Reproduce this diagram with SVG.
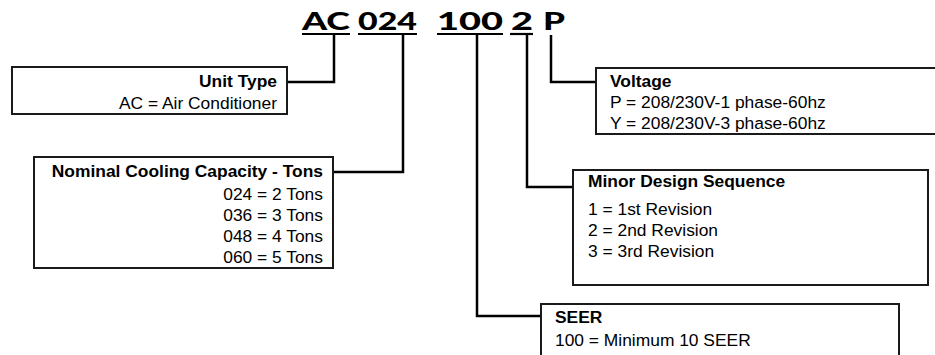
<svg xmlns="http://www.w3.org/2000/svg" width="935" height="355" viewBox="0 0 935 355">
<style>
.box{fill:#fff;stroke:#1a1a1a;stroke-width:2}
.conn{fill:none;stroke:#000;stroke-width:2.5}
.ul{stroke:#000;stroke-width:2.2}
.t{font-family:"Liberation Sans",Arial,sans-serif;font-size:17.4px;fill:#000}
.b{font-weight:bold}
.r{text-anchor:end}
.code{font-family:Lato,"DejaVu Sans",sans-serif;font-weight:900;font-size:25px;fill:#000}
</style>
<rect width="935" height="355" fill="#fff"/>
<g id="code">
<text class="code" x="302" y="30" textLength="48" lengthAdjust="spacingAndGlyphs">AC</text>
<text class="code" x="358" y="30" textLength="59" lengthAdjust="spacingAndGlyphs">024</text>
<text class="code" x="437" y="30" textLength="66" lengthAdjust="spacingAndGlyphs">100</text>
<text class="code" x="511" y="30" textLength="22" lengthAdjust="spacingAndGlyphs">2</text>
<text class="code" x="543" y="30" textLength="22" lengthAdjust="spacingAndGlyphs">P</text>
<line class="ul" x1="302" y1="34" x2="350" y2="34"/>
<line class="ul" x1="358" y1="34" x2="417" y2="34"/>
<line class="ul" x1="437" y1="34" x2="503" y2="34"/>
<line class="ul" x1="510" y1="34" x2="533" y2="34"/>
</g>
<g id="connectors">
<polyline class="conn" points="334,35 334,82 287,82"/>
<polyline class="conn" points="403,35 403,172 333,172"/>
<polyline class="conn" points="477,35 477,316 541,316"/>
<polyline class="conn" points="527,35 527,187 573,187"/>
<polyline class="conn" points="551,35 551,82 596,82"/>
</g>
<g id="unit-type">
<rect class="box" x="12" y="67" width="275" height="47"/>
<text class="t b r" x="277" y="87">Unit Type</text>
<text class="t r" x="277" y="109">AC = Air Conditioner</text>
</g>
<g id="capacity">
<rect class="box" x="34" y="157" width="299" height="111"/>
<text class="t b r" x="323" y="177">Nominal Cooling Capacity - Tons</text>
<text class="t r" x="323" y="200">024 = 2 Tons</text>
<text class="t r" x="323" y="221">036 = 3 Tons</text>
<text class="t r" x="323" y="242">048 = 4 Tons</text>
<text class="t r" x="323" y="263">060 = 5 Tons</text>
</g>
<g id="voltage">
<rect class="box" x="596" y="68" width="345" height="66"/>
<text class="t b" x="610" y="87">Voltage</text>
<text class="t" x="610" y="108">P = 208/230V-1 phase-60hz</text>
<text class="t" x="610" y="129">Y = 208/230V-3 phase-60hz</text>
</g>
<g id="minor-design">
<rect class="box" x="573" y="170" width="355" height="115"/>
<text class="t b" x="588" y="187">Minor Design Sequence</text>
<text class="t" x="588" y="215">1 = 1st Revision</text>
<text class="t" x="588" y="236">2 = 2nd Revision</text>
<text class="t" x="588" y="257">3 = 3rd Revision</text>
</g>
<g id="seer">
<rect class="box" x="541" y="304" width="358" height="60"/>
<text class="t b" x="555" y="323">SEER</text>
<text class="t" x="555" y="346">100 = Minimum 10 SEER</text>
</g>
</svg>
